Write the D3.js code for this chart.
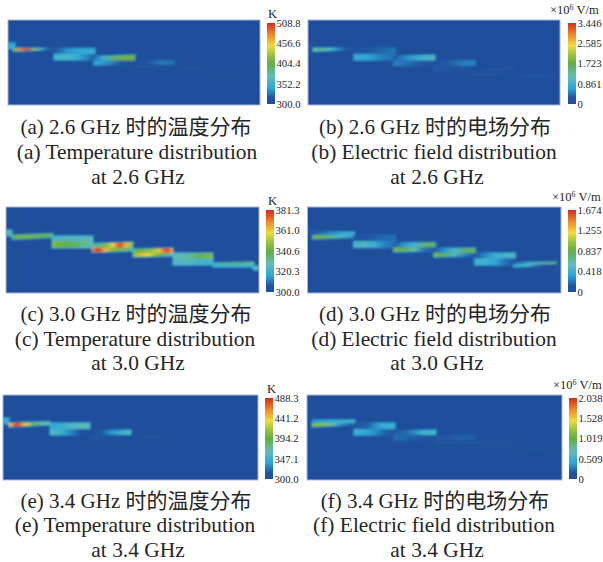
<!DOCTYPE html>
<html><head><meta charset="utf-8">
<script src="https://cdnjs.cloudflare.com/ajax/libs/d3/7.8.5/d3.min.js"></script>
<style>html,body{margin:0;padding:0;background:#fff}svg{display:block}
text{font-family:"Liberation Serif","Noto Sans CJK SC",serif;fill:#262626}</style>
</head><body><svg id="c" width="603" height="562"></svg>
<script>
// Each stripe: [xStart, xEnd, yTopL, yBotL, yTopR, yBotR, [values along x]]
const stripesA=[
 [0,7,23,29,23,29,[345,345]],
 [5,47,28,31.5,28.5,29.3,[385,480,506,430,360,322,304]],
 [46,87,28.5,34,28.5,34,[312,336,346,348]],
 [46,87,34,40,34,40,[352,358,352,335,318]],
 [86,127,36.2,40.7,35,40.7,[325,352,398,412,408]],
 [86,127,40.7,45,40.7,44,[342,335,312,303]],
 [126,166,40.7,45,40.7,45,[304,315,328,325]],
 [126,166,45,49,45,49,[307,305,303]],
 [166,205,47,50,47,50,[302,306,305,302]],
 [205,247,55,57,55,57,[301,303,302]]];
const stripesB=[
 [0,7,23,28,23,28,[0.18,0.12]],
 [5,47,28,31.5,28,29.2,[1.25,1.45,1.15,0.85,0.45,0.2,0.1]],
 [46,87,28,34,28,34,[0.08,0.2,0.35,0.45]],
 [46,87,34,40,34,40,[0.8,0.7,0.5,0.38]],
 [86,127,36,40.7,35,40.7,[0.3,0.6,0.9,1.0]],
 [86,127,40.7,45.7,40.7,45.7,[0.5,0.4,0.22,0.1]],
 [126,167,40.7,46,40.7,46,[0.1,0.3,0.45,0.5]],
 [126,167,46,51,46,51,[0.32,0.22,0.12,0.05]],
 [166,206,46.5,51,46.5,51,[0.05,0.14,0.2]],
 [166,206,51,57,51,57,[0.14,0.09,0.04]],
 [207,247,55,58,55,58,[0.1,0.16,0.1]]];
const stripesC=[
 [0,6,23,29,23,29,[325,325]],
 [6,47,28,32.5,26.5,30.5,[338,344,342,335]],
 [46,87,29,34,29,34,[322,325,325,326]],
 [46,87,34,41,34,41,[345,341,335,328]],
 [87,127,36.5,41,35,40.5,[322,335,345,360,378,362,345]],
 [86,127,41,45.5,41,44,[372,380,362,345,345,335,325]],
 [127,167,42,46,41,46,[335,342,345,350,362,378,365]],
 [127,167,46,50,46,49,[345,362,358,345,335,325]],
 [167,207,46,52,46,52,[325,330,338,345]],
 [167,207,52,58,52,58,[325,325,322,320]],
 [207,248,56,58,55,58,[322,340,342,345]],
 [207,248,57,60,57,60,[322,322,321]],
 [247,253,59,63,59,63,[325,325]]];
const stripesD=[
 [0,6,22,27,22,27,[0.14,0.12]],
 [5,47,25,29,25,29,[0.05,0.25,0.35,0.42]],
 [5,47,28,32,28,30.5,[0.9,0.8,0.5,0.3]],
 [46,88,28,34,28,34,[0.08,0.12,0.18,0.2]],
 [46,88,34.5,40.5,34.5,40.5,[0.45,0.5,0.4,0.25,0.2]],
 [86,128,36,40.5,35.5,40.5,[0.08,0.3,0.45,0.75,0.8]],
 [86,128,40.5,45,40.5,44,[0.9,0.85,0.6,0.2,0.1]],
 [126,168,41.5,46,41,46,[0.1,0.3,0.5,0.75,0.8]],
 [126,168,46,50,46,49,[0.9,0.85,0.5,0.25,0.1]],
 [167,208,46,51.5,46,51.5,[0.1,0.25,0.4,0.45,0.5]],
 [167,208,51.5,58,51.5,58,[0.4,0.45,0.35,0.2,0.1]],
 [206,249,55.5,58,55,58,[0.1,0.4,0.65,0.8]],
 [206,249,57,60,57,58.5,[0.35,0.5,0.15,0.05]],
 [247,254,59,64,59,64,[0.12,0.12]]];
const stripesE=[
 [0,6,23,29,23,29,[345,345]],
 [6,47,28,32,26.5,30,[440,488,440,385,372,362]],
 [47,87,28,34,28,34,[340,345,360,358]],
 [47,87,34,40,34,40,[355,350,330,310,303]],
 [87,128,36,40,35,40,[303,310,332,345,355]],
 [87,128,40,44,40,42,[315,310,304,302]],
 [128,168,40,44,40,44,[302,306,305,302]]];
const stripesF=[
 [4,7,22,28,22,28,[0.14,0.12]],
 [5,48,25,29,25,28,[0.35,0.45,0.5,0.55]],
 [5,48,28,32,28,30,[1.1,1.15,0.7,0.3,0.1]],
 [47,88,28,34,28,34,[0.08,0.2,0.45,0.5]],
 [47,88,34,40,34,40,[0.5,0.45,0.35,0.2,0.15]],
 [87,129,36,40,35,40,[0.1,0.25,0.5,0.55]],
 [87,129,40,45,40,45,[0.25,0.2,0.15,0.1]],
 [128,169,40,45,40,45,[0.1,0.17,0.2,0.18]],
 [128,169,45,50,45,50,[0.08,0.08,0.07]],
 [169,210,46,51,46,51,[0.06,0.08,0.05]],
 [210,250,55,57,55,57,[0.05,0.07,0.05]]];

const ticksA=[300.0,352.2,404.4,456.6,508.8];
const ticksB=[0,0.861,1.723,2.585,3.446];
const ticksC=[300.0,320.3,340.6,361.0,381.3];
const ticksD=[0,0.418,0.837,1.255,1.674];
const ticksE=[300.0,347.1,394.2,441.2,488.3];
const ticksF=[0,0.509,1.019,1.528,2.038];

const captionsA=["(a) 2.6 GHz 时的温度分布","(a) Temperature distribution","at 2.6 GHz"];
const captionsB=["(b) 2.6 GHz 时的电场分布","(b) Electric field distribution","at 2.6 GHz"];
const captionsC=["(c) 3.0 GHz 时的温度分布","(c) Temperature distribution","at 3.0 GHz"];
const captionsD=["(d) 3.0 GHz 时的电场分布","(d) Electric field distribution","at 3.0 GHz"];
const captionsE=["(e) 3.4 GHz 时的温度分布","(e) Temperature distribution","at 3.4 GHz"];
const captionsF=["(f) 3.4 GHz 时的电场分布","(f) Electric field distribution","at 3.4 GHz"];

const rampStops=[0,0.08,0.2,0.34,0.5,0.62,0.72,0.85,1];
const rampColors=["#1f4f9c","#2155a3","#2aa8d8","#62bdb8","#62ae48","#a3c63e","#efdc3a","#ee8c2c","#d62b20"];

const layout=[
 {stripes:stripesA,ticks:ticksA,cap:captionsA,unit:"K",x0:8,x1:260,y0:20,y1:105,bx:267,by0:23,by1:104,ux:268,uy:18,cx:[136,137,138],cy:[134,159,184]},
 {stripes:stripesB,ticks:ticksB,cap:captionsB,unit:"E",x0:308,x1:560,y0:20,y1:105,bx:568,by0:23,by1:104,ux:550,uy:14,cx:[435,434,437],cy:[134,159,184]},
 {stripes:stripesC,ticks:ticksC,cap:captionsC,unit:"K",x0:6,x1:259,y0:207,y1:293,bx:266,by0:210,by1:292,ux:268,uy:205,cx:[136,135,138],cy:[321,346,370]},
 {stripes:stripesD,ticks:ticksD,cap:captionsD,unit:"E",x0:307.5,x1:561,y0:207,y1:293,bx:568,by0:210,by1:292,ux:552,uy:201,cx:[435,434,437],cy:[321,346,370]},
 {stripes:stripesE,ticks:ticksE,cap:captionsE,unit:"K",x0:3,x1:258,y0:395,y1:480,bx:265,by0:398,by1:479,ux:267,uy:393,cx:[136,135,138],cy:[508,532,557]},
 {stripes:stripesF,ticks:ticksF,cap:captionsF,unit:"E",x0:307,x1:562,y0:395,y1:480,bx:569,by0:398,by1:479,ux:553,uy:389,cx:[435,434,437],cy:[508,532,557]}
];

const svg=d3.select("#c");
const defs=svg.append("defs");
defs.append("filter").attr("id","soft").attr("x","-5%").attr("y","-20%").attr("width","110%").attr("height","140%")
 .append("feGaussianBlur").attr("stdDeviation",0.85);

const ramp=d3.scaleLinear().domain(rampStops).range(rampColors).interpolate(d3.interpolateRgb);
const barW=8;
let gid=0;
layout.forEach(p=>{
 const lo=p.ticks[0],hi=p.ticks[p.ticks.length-1];
 const norm=d3.scaleLinear().domain([lo,hi]).range([0,1]);
 const x=d3.scaleLinear().domain([0,p.x1-p.x0]).range([p.x0,p.x1]);
 const y=d3.scaleLinear().domain([0,p.y1-p.y0]).range([p.y0,p.y1]);
 const g=svg.append("g");
 const clipId="clip"+(gid++);
 defs.append("clipPath").attr("id",clipId).append("rect")
  .attr("x",p.x0).attr("y",p.y0).attr("width",p.x1-p.x0).attr("height",p.y1-p.y0);
 g.append("rect").attr("x",p.x0).attr("y",p.y0).attr("width",p.x1-p.x0).attr("height",p.y1-p.y0)
  .attr("fill",ramp(0));
 const field=g.append("g").attr("clip-path",`url(#${clipId})`).append("g").attr("filter","url(#soft)");
 const line=d3.line().x(d=>x(d[0])).y(d=>y(d[1]));
 const grad=(s,cap)=>{
  const id="g"+(gid++);
  const lg=defs.append("linearGradient").attr("id",id).attr("gradientUnits","userSpaceOnUse")
   .attr("x1",x(s[0])).attr("x2",x(s[1])).attr("y1",0).attr("y2",0);
  const vals=s[6];
  vals.forEach((v,i)=>lg.append("stop").attr("offset",i/(vals.length-1))
   .attr("stop-color",ramp(Math.min(norm(v),cap))));
  return id;
 };
 // cool rim underneath, then the hotter core on top
 p.stripes.forEach(s=>{
  const [a,b,tl,bl,tr,br]=s;
  field.append("path").attr("d",line([[a,tl],[b,tr],[b,br],[a,bl]])+"Z")
   .attr("fill","none").attr("stroke",`url(#${grad(s,0.2)})`).attr("stroke-width",1.3);
 });
 p.stripes.forEach(s=>{
  const [a,b,tl,bl,tr,br]=s;
  field.append("path").attr("d",line([[a,tl],[b,tr],[b,br],[a,bl]])+"Z").attr("fill",`url(#${grad(s,1)})`);
 });
 g.append("rect").attr("x",p.x0).attr("y",p.y0).attr("width",p.x1-p.x0).attr("height",p.y1-p.y0)
  .attr("fill","none").attr("stroke","#a8b6d8").attr("stroke-width",1);

 // colour bar
 const bid="b"+(gid++);
 const bg=defs.append("linearGradient").attr("id",bid).attr("x1",0).attr("x2",0).attr("y1",1).attr("y2",0);
 rampStops.forEach((t,i)=>bg.append("stop").attr("offset",t).attr("stop-color",rampColors[i]));
 svg.append("rect").attr("x",p.bx).attr("y",p.by0).attr("width",barW).attr("height",p.by1-p.by0).attr("fill",`url(#${bid})`);
 const scale=d3.scaleLinear().domain([lo,hi]).range([p.by1,p.by0]);
 const fmt=p.unit==="K"?d3.format(".1f"):(d=>d===0?"0":d3.format(".3f")(d));
 const ax=svg.append("g").attr("transform",`translate(${p.bx+barW},0)`)
  .call(d3.axisRight(scale).tickValues(p.ticks).tickSize(0).tickPadding(1.5).tickFormat(fmt));
 ax.select(".domain").remove();
 ax.selectAll("text").attr("font-size",10.7).style("font-family",'"Liberation Serif",serif').style("fill","#262626");

 // unit
 if(p.unit==="K"){
  svg.append("text").attr("x",p.ux).attr("y",p.uy).attr("font-size",12.5).text("K");
 }else{
  const t=svg.append("text").attr("x",p.ux).attr("y",p.uy).attr("font-size",12.5);
  t.append("tspan").text("×10");
  t.append("tspan").attr("font-size",8).attr("dy",-4).text("6");
  t.append("tspan").attr("dy",4).text(" V/m");
 }
 // captions
 p.cap.forEach((c,i)=>svg.append("text").attr("x",p.cx[i]).attr("y",p.cy[i]).attr("text-anchor","middle")
  .attr("font-size",i===0?21:21.4).text(c));
});
</script></body></html>
